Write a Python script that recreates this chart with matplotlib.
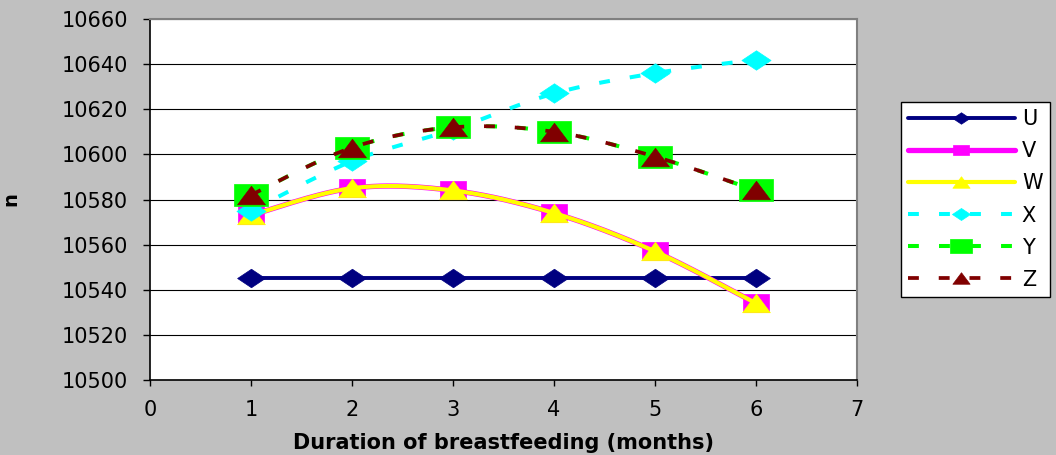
import numpy as np
import matplotlib
matplotlib.use("Agg")
import matplotlib.pyplot as plt
from matplotlib.path import Path

# ---------------- data ----------------
months = [1, 2, 3, 4, 5, 6]
U = [10545, 10545, 10545, 10545, 10545, 10545]
V = [10573, 10585, 10584, 10574, 10557, 10534]
W = [10573, 10585, 10584, 10574, 10557, 10534]
X = [10575, 10597, 10611, 10627, 10636, 10642]
Y = [10582, 10603, 10612, 10610, 10599, 10584]
Z = [10582, 10603, 10612, 10610, 10599, 10584]
series_names = ["U", "V", "W", "X", "Y", "Z"]
x_ticks = [0, 1, 2, 3, 4, 5, 6, 7]
y_ticks = [10500, 10520, 10540, 10560, 10580, 10600, 10620, 10640, 10660]
x_label = "Duration of breastfeeding (months)"
y_label = "n"

# ---------------- helpers ----------------
def smooth(xs, ys, n=40):
    """Excel-like smoothed line (Catmull-Rom Bezier). Returns dense curve
    and indices of original points within it."""
    P = np.column_stack([np.asarray(xs, float), np.asarray(ys, float)])
    m = len(P)
    out = []
    idx = []
    for i in range(m - 1):
        p0 = P[max(i - 1, 0)]
        p1 = P[i]
        p2 = P[i + 1]
        p3 = P[min(i + 2, m - 1)]
        c1 = p1 + (p2 - p0) / 6.0
        c2 = p2 - (p3 - p1) / 6.0
        t = np.linspace(0, 1, n, endpoint=False)[:, None]
        seg = ((1 - t) ** 3) * p1 + 3 * ((1 - t) ** 2) * t * c1 + 3 * (1 - t) * t ** 2 * c2 + t ** 3 * p2
        idx.append(len(out))
        out.extend(seg.tolist())
    idx.append(len(out))
    out.append(P[-1].tolist())
    out = np.array(out)
    return out[:, 0], out[:, 1], idx

def wide_marker(kind, aspect=1.5):
    a = aspect / 2.0
    if kind == "diamond":
        verts = [(-a, 0), (0, 0.5), (a, 0), (0, -0.5), (-a, 0)]
    elif kind == "square":
        verts = [(-a, -0.5), (a, -0.5), (a, 0.5), (-a, 0.5), (-a, -0.5)]
    else:  # triangle
        verts = [(-a, -0.5), (a, -0.5), (0, 0.5), (-a, -0.5)]
    return Path(verts, closed=True)

# ---------------- figure ----------------
W_PX, H_PX = 1056, 455
DPI = 100
fig = plt.figure(figsize=(W_PX / DPI, H_PX / DPI), dpi=DPI)
fig.patch.set_facecolor("#c0c0c0")
plt.rcParams["font.family"] = ["DejaVu Sans"]

L, R, T, B = 150, 857, 19, 380
ax = fig.add_axes([L / W_PX, 1 - B / H_PX, (R - L) / W_PX, (B - T) / H_PX])
ax.set_facecolor("white")
ax.set_xlim(0, 7)
ax.set_ylim(10500, 10660)
ax.set_xticks(x_ticks)
ax.set_yticks(y_ticks)
ax.set_xticklabels([str(v) for v in x_ticks])
ax.set_yticklabels([str(v) for v in y_ticks])
ax.tick_params(axis="both", direction="out", colors="black", labelsize=15)
ax.tick_params(axis="y", length=5, width=1, pad=11)
ax.tick_params(axis="x", length=4.5, width=1, pad=10)
ax.yaxis.grid(True, color="black", linewidth=0.8)
ax.set_axisbelow(True)
for s in ["left", "bottom"]:
    ax.spines[s].set_color("black")
    ax.spines[s].set_linewidth(1.2)
for s in ["top", "right"]:
    ax.spines[s].set_color("#808080")
    ax.spines[s].set_linewidth(1.5)

styles = {
    "U": dict(color="#000080", lw=2.8, ls="-", marker=wide_marker("diamond"), ms=20),
    "V": dict(color="#ff00ff", lw=3.8, ls="-", marker=wide_marker("square"), ms=18.5),
    "W": dict(color="#ffff00", lw=3.0, ls="-", marker=wide_marker("triangle"), ms=20),
    "X": dict(color="#00ffff", lw=2.9, ls=(0, (2.7, 5.0)), marker=wide_marker("diamond"), ms=21),
    "Y": dict(color="#00ff00", lw=2.9, ls=(0, (2.7, 5.0)), marker=wide_marker("square"), ms=24.5),
    "Z": dict(color="#800000", lw=2.7, ls=(0, (2.9, 5.3)), marker=wide_marker("triangle"), ms=20),
}
data = {"U": U, "V": V, "W": W, "X": X, "Y": Y, "Z": Z}

handles = []
for name in series_names:
    st = styles[name]
    xs, ys, idx = smooth(months, data[name])
    (ln,) = ax.plot(xs, ys, color=st["color"], lw=st["lw"], ls=st["ls"],
                    marker=st["marker"], ms=st["ms"], markevery=idx,
                    mfc=st["color"], mec=st["color"], mew=0.5,
                    dash_capstyle="butt", solid_capstyle="round", label=name)
    handles.append(ln)

ax.set_xlabel(x_label, fontsize=15, fontweight="bold", labelpad=9)
ax.set_ylabel(y_label, fontsize=14, fontweight="bold")
ax.yaxis.set_label_coords(-(L - 20) / (R - L), 0.5)

leg = fig.legend(handles=handles, loc="upper left",
                 bbox_to_anchor=(901 / W_PX, 1 - 102 / H_PX),
                 fontsize=15, frameon=True, fancybox=False, framealpha=1,
                 edgecolor="black", facecolor="white", numpoints=1,
                 markerscale=0.62,
                 handlelength=5.1, handletextpad=0.35, labelspacing=0.58,
                 borderpad=0.35, borderaxespad=0)
leg.get_frame().set_linewidth(1.0)

fig.savefig("out.png", dpi=DPI, facecolor=fig.get_facecolor())
